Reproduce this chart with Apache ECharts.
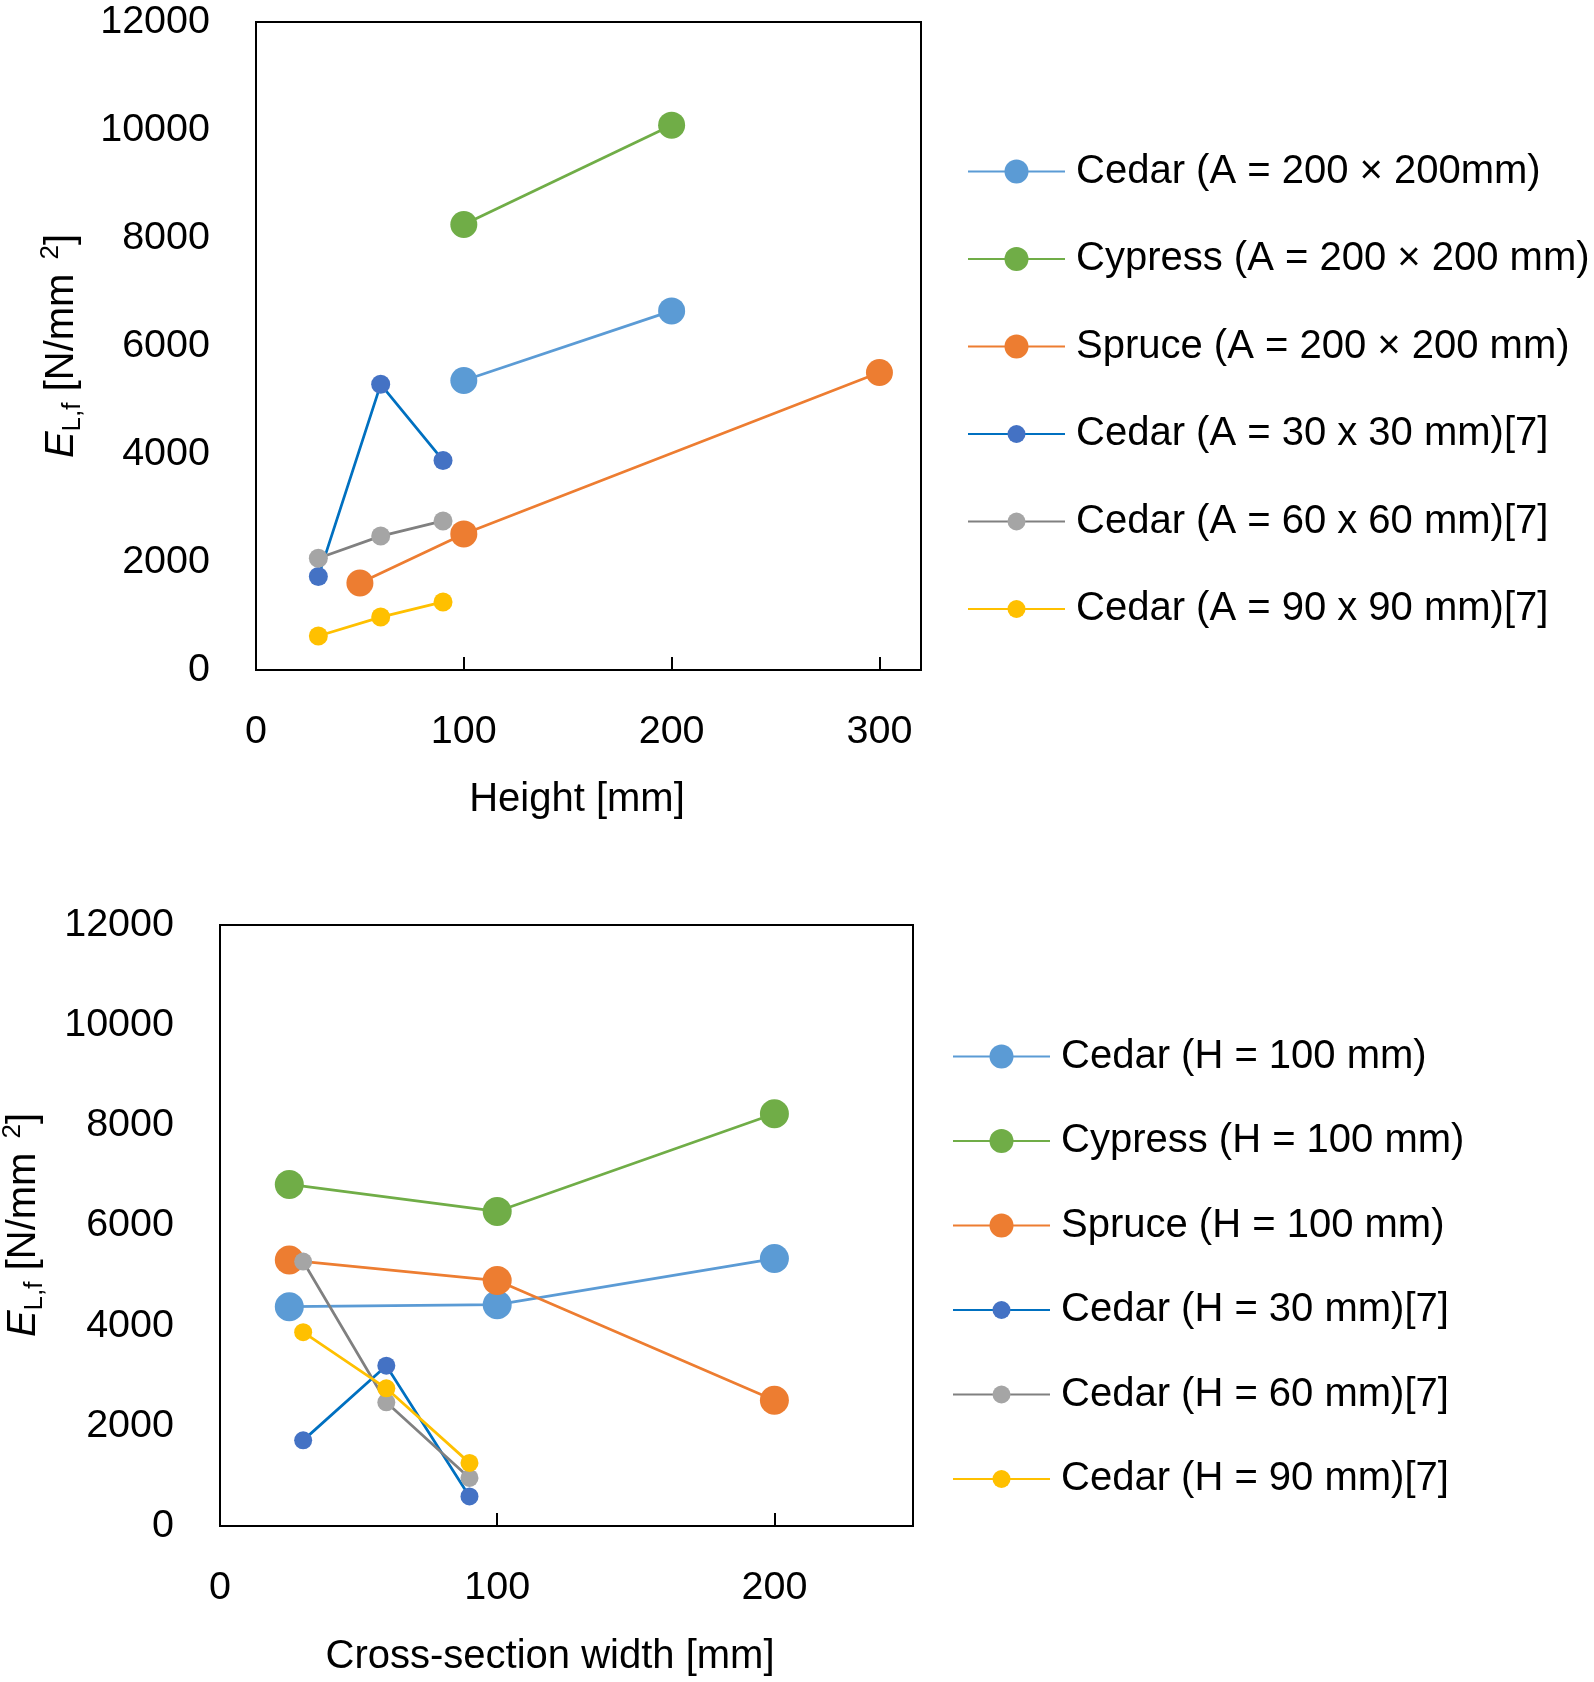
<!DOCTYPE html>
<html><head><meta charset="utf-8">
<script src="https://cdn.jsdelivr.net/npm/echarts@6/dist/echarts.min.js"></script>
<style>html,body{margin:0;padding:0;background:#fff}#c{width:1594px;height:1682px}</style>
</head><body><div id="c"></div>
<script>
const FONT = '"Liberation Sans", Arial, sans-serif';

// ---- Top chart: E_L,f vs Height ----
const topNames = ['Cedar (A = 200 × 200mm)', 'Cypress (A = 200 × 200 mm)', 'Spruce (A = 200 × 200 mm)',
  'Cedar (A = 30 x 30 mm)[7]', 'Cedar (A = 60 x 60 mm)[7]', 'Cedar (A = 90 x 90 mm)[7]'];
const heightCedar200 = [100, 200];
const eCedar200 = [5360, 6650];
const heightCypress200 = [100, 200];
const eCypress200 = [8250, 10090];
const heightSpruce200 = [50, 100, 300];
const eSpruce200 = [1610, 2520, 5510];
const heightRef = [30, 60, 90];
const eCedar30 = [1730, 5290, 3880];
const eCedar60 = [2070, 2480, 2760];
const eCedar90 = [630, 980, 1260];

// ---- Bottom chart: E_L,f vs Cross-section width ----
const bottomNames = ['Cedar (H = 100 mm)', 'Cypress (H = 100 mm)', 'Spruce (H = 100 mm)',
  'Cedar (H = 30 mm)[7]', 'Cedar (H = 60 mm)[7]', 'Cedar (H = 90 mm)[7]'];
const widthLarge = [25, 100, 200];
const eCedarH100 = [4380, 4420, 5340];
const eCypressH100 = [6820, 6280, 8230];
const eSpruceH100 = [5310, 4900, 2510];
const widthRef = [30, 60, 90];
const eCedarH30 = [1710, 3200, 590];
const eCedarH60 = [5280, 2470, 960];
const eCedarH90 = [3870, 2750, 1260];

// ---- Tick labels ----
const yTicks = [0, 2000, 4000, 6000, 8000, 10000, 12000];
const xTicksTop = [0, 100, 200, 300];
const xTicksBottom = [0, 100, 200];

const C = {
  lblue: '#5B9BD5', green: '#70AD47', orange: '#ED7D31',
  dblueLine: '#0070C0', dblueMark: '#4472C4',
  grayLine: '#808080', grayMark: '#A5A5A5', yellow: '#FFC000'
};

function pts(xs, ys) { return xs.map((x, i) => [x, ys[i]]); }
function mk(name, xs, ys, lineColor, markColor, size, gi) {
  return {
    type: 'line', name, xAxisIndex: gi, yAxisIndex: gi,
    data: pts(xs, ys), symbol: 'circle', symbolSize: size, showSymbol: true,
    lineStyle: { color: lineColor, width: 2.75 },
    itemStyle: { color: markColor, borderWidth: 0 },
    emphasis: { disabled: true }, animation: false, z: 2
  };
}

const series = [
  mk(topNames[0], heightCedar200, eCedar200, C.lblue, C.lblue, 27, 0),
  mk(topNames[1], heightCypress200, eCypress200, C.green, C.green, 27, 0),
  mk(topNames[2], heightSpruce200, eSpruce200, C.orange, C.orange, 27, 0),
  mk(topNames[3], heightRef, eCedar30, C.dblueLine, C.dblueMark, 19, 0),
  mk(topNames[4], heightRef, eCedar60, C.grayLine, C.grayMark, 19, 0),
  mk(topNames[5], heightRef, eCedar90, C.yellow, C.yellow, 19, 0),
  mk(bottomNames[0], widthLarge, eCedarH100, C.lblue, C.lblue, 29, 1),
  mk(bottomNames[1], widthLarge, eCypressH100, C.green, C.green, 29, 1),
  mk(bottomNames[2], widthLarge, eSpruceH100, C.orange, C.orange, 29, 1),
  mk(bottomNames[3], widthRef, eCedarH30, C.dblueLine, C.dblueMark, 18, 1),
  mk(bottomNames[4], widthRef, eCedarH60, C.grayLine, C.grayMark, 18, 1),
  mk(bottomNames[5], widthRef, eCedarH90, C.yellow, C.yellow, 18, 1)
];

function legendCfg(names, left, top, itemH, gap) {
  return {
    data: names, orient: 'vertical', left, top, padding: 0,
    itemWidth: 97, itemHeight: itemH, itemGap: gap, selectedMode: false,
    textStyle: { fontSize: 40, lineHeight: 40, fontFamily: FONT, color: '#000', padding: [0, 0, 0, 6] }
  };
}

function yAxisCfg(gi) {
  return {
    gridIndex: gi, type: 'value', min: 0, max: 12000, interval: 2000,
    axisLine: { show: true, lineStyle: { color: '#000', width: 2 } },
    axisTick: { show: false }, splitLine: { show: false },
    axisLabel: { fontSize: 39.5, color: '#000', margin: 46, fontFamily: FONT,
      formatter: v => yTicks.includes(v) ? String(v) : '' }
  };
}
function xAxisCfg(gi, max, ticks) {
  return {
    gridIndex: gi, type: 'value', min: 0, max, interval: 100,
    axisLine: { show: true, onZero: false, lineStyle: { color: '#000', width: 2 } },
    axisTick: { show: true, inside: true, length: 13, lineStyle: { color: '#000', width: 2 } },
    splitLine: { show: false },
    axisLabel: { fontSize: 39.5, color: '#000', margin: 42, fontFamily: FONT,
      showMaxLabel: true,
      formatter: v => ticks.includes(v) ? String(v) : '' }
  };
}

function yTitle(x, y) {
  return {
    type: 'text', x, y, rotation: Math.PI / 2, silent: true,
    style: {
      text: '{e|E}{s|L,f} [N/mm {p|2}]',
      fontSize: 40, fontFamily: FONT, fill: '#000', lineHeight: 48,
      align: 'center', verticalAlign: 'middle',
      rich: {
        e: { fontSize: 40, fontStyle: 'italic', fontFamily: FONT, lineHeight: 48 },
        s: { fontSize: 26, fontFamily: FONT, verticalAlign: 'bottom', lineHeight: 28 },
        p: { fontSize: 26, fontFamily: FONT, verticalAlign: 'top', lineHeight: 29, padding: [0, 0, 0, 3] }
      }
    }
  };
}
function xTitle(text, x, y) {
  return {
    type: 'text', x, y, silent: true,
    style: { text, fontSize: 40, fontFamily: FONT, fill: '#000', align: 'center', verticalAlign: 'middle' }
  };
}

const option = {
  backgroundColor: '#fff',
  animation: false,
  textStyle: { fontFamily: FONT },
  grid: [
    { left: 256, top: 22, width: 665, height: 648, show: true, borderColor: '#000', borderWidth: 2, backgroundColor: 'transparent' },
    { left: 220, top: 925, width: 693, height: 601, show: true, borderColor: '#000', borderWidth: 2, backgroundColor: 'transparent' }
  ],
  xAxis: [xAxisCfg(0, 320, xTicksTop), xAxisCfg(1, 250, xTicksBottom)],
  yAxis: [yAxisCfg(0), yAxisCfg(1)],
  legend: [
    legendCfg(topNames.slice(0, 3), 967, 151.5, 30, 47.5),
    legendCfg(topNames.slice(3), 967, 414, 22.5, 47.5),
    legendCfg(bottomNames.slice(0, 3), 952, 1036.5, 30, 44.5),
    legendCfg(bottomNames.slice(3), 952, 1290, 22.5, 44.5)
  ],
  graphic: [
    yTitle(62, 346),
    yTitle(24, 1225),
    xTitle('Height [mm]', 577, 800),
    xTitle('Cross-section width [mm]', 550, 1657)
  ],
  series
};

const chart = echarts.init(document.getElementById('c'), null, { renderer: 'canvas' });
chart.setOption(option);
</script>
</body></html>
